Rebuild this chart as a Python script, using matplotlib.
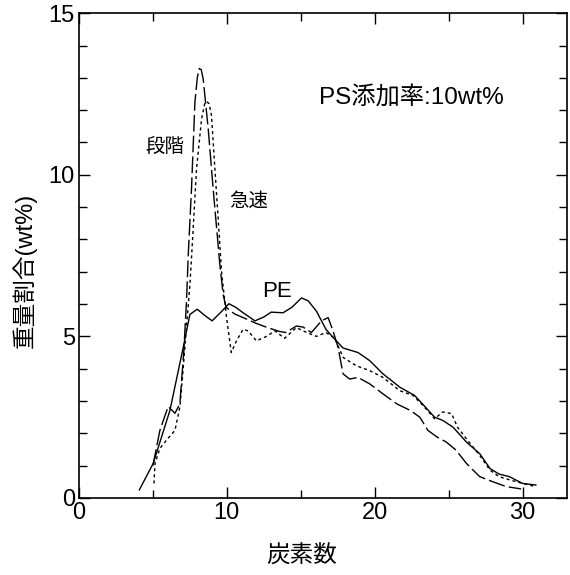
import matplotlib
matplotlib.use("Agg")
import matplotlib.pyplot as plt
from matplotlib.ticker import MultipleLocator

plt.rcParams['font.family'] = ['Liberation Sans', 'Noto Sans CJK JP', 'DejaVu Sans']

# PE (solid)
pe_x = [4.08, 5.02, 6.15, 7.05, 7.5, 8.0, 8.5, 9.0, 9.6, 10.14, 10.6, 11.1, 11.9, 12.5,
        13.0, 13.8, 14.4, 15.05, 15.5, 16.06, 16.7, 17.2, 17.86, 18.87, 19.66, 20.56,
        21.69, 22.7, 23.27, 24.05, 24.6, 25.3, 26.2, 27.1, 27.8, 28.4, 29.1, 30.0, 30.9]
pe_y = [0.25, 1.07, 2.71, 4.66, 5.68, 5.84, 5.65, 5.48, 5.75, 6.01, 5.9, 5.73, 5.48, 5.6,
        5.75, 5.73, 5.9, 6.19, 6.1, 5.78, 5.22, 4.96, 4.64, 4.50, 4.25, 3.84,
        3.43, 3.17, 2.89, 2.50, 2.40, 2.19, 1.73, 1.37, 0.91, 0.74, 0.66, 0.45, 0.40]

# 段階 (long dashed)
st_x = [5.0, 5.47, 6.03, 6.49, 6.82, 7.09, 7.27, 7.39, 7.61, 7.84, 8.0, 8.13, 8.27, 8.4, 8.74, 9.07,
        9.53, 9.75, 9.95, 10.5, 11.0, 11.5, 12.0, 12.7, 13.58, 14.0, 14.7, 15.15, 15.72,
        16.4, 16.85, 17.18, 17.52, 17.86, 18.3, 18.87, 19.66, 20.56, 21.5, 22.4, 23.05,
        23.6, 24.2, 24.84, 25.5, 26.2, 27.1, 28.0, 28.9, 29.9]
st_y = [1.0, 2.09, 2.83, 2.62, 2.91, 4.55, 6.09, 7.53, 9.58, 12.25, 13.0, 13.29, 13.25, 12.96, 11.42, 9.58,
        7.2, 6.29, 5.9, 5.7, 5.6, 5.5, 5.4, 5.28, 5.15, 5.12, 5.32, 5.29, 5.12,
        5.48, 5.58, 5.17, 4.66, 3.84, 3.68, 3.73, 3.53, 3.22, 2.91, 2.71, 2.50,
        2.09, 1.89, 1.73, 1.48, 1.07, 0.66, 0.50, 0.35, 0.28]

# 急速 (dotted)
rp_x = [5.07, 5.14, 5.47, 5.9, 6.49, 6.82, 7.0, 7.23, 7.5, 7.61, 7.95, 8.29, 8.5, 8.63, 8.8, 8.96,
        9.19, 9.41, 9.64, 9.98, 10.3, 10.65, 11.1, 11.44, 12.0, 12.68, 13.25, 13.9, 14.7,
        15.4, 16.06, 16.7, 17.3, 17.86, 18.76, 19.66, 20.56, 21.69, 22.6, 23.27, 24.05,
        24.6, 25.2, 25.6, 26.2, 27.1, 27.8, 28.4, 29.2, 30.0, 30.9]
rp_y = [0.45, 1.07, 1.53, 1.78, 2.09, 2.81, 3.74, 5.06, 6.6, 7.43, 10.19, 11.73, 12.2, 12.27, 12.2, 11.84,
        10.19, 8.66, 7.0, 5.58, 4.5, 4.86, 5.22, 5.17, 4.86, 5.0, 5.17, 4.94, 5.27,
        5.12, 5.0, 5.12, 4.94, 4.35, 4.09, 3.94, 3.73, 3.32, 3.17, 2.86, 2.45,
        2.66, 2.61, 2.19, 1.83, 1.32, 0.86, 0.66, 0.55, 0.45, 0.35]

x_ticks = [0, 10, 20, 30]
y_ticks = [0, 5, 10, 15]

fig = plt.figure(figsize=(5.7, 5.75), dpi=100)
ax = fig.add_axes([0.1386, 0.134, 0.856, 0.843])

ax.plot(pe_x, pe_y, color='black', lw=1.0, linestyle='-')
ax.plot(st_x, st_y, color='black', lw=1.0, linestyle=(0, (12, 3)))
ax.plot(rp_x, rp_y, color='black', lw=1.0, linestyle=(0, (2.2, 2.2)))

ax.set_xlim(0, 33)
ax.set_ylim(0, 15)
ax.set_xticks(x_ticks)
ax.set_yticks(y_ticks)
ax.xaxis.set_minor_locator(MultipleLocator(5))
ax.yaxis.set_minor_locator(MultipleLocator(1))
ax.tick_params(which='both', direction='in', top=True, right=True, labelsize=17, width=1.0)
ax.tick_params(which='major', length=8, pad=3)
ax.tick_params(which='minor', length=6)
for s in ax.spines.values():
    s.set_linewidth(1.2)

ax.set_xlabel('炭素数', fontsize=17)
ax.xaxis.set_label_coords(0.457, -0.098)
ax.set_ylabel('重量割合(wt%)', fontsize=17)
ax.yaxis.set_label_coords(-0.086, 0.469)

ax.text(16.2, 12.4, 'PS添加率:10wt%', fontsize=17.5, ha='left', va='center')
ax.text(5.78, 10.83, '段階', fontsize=14, ha='center', va='center')
ax.text(11.45, 9.17, '急速', fontsize=14, ha='center', va='center')
ax.text(13.4, 6.4, 'PE', fontsize=16, ha='center', va='center')

fig.savefig('out.png', dpi=100)
